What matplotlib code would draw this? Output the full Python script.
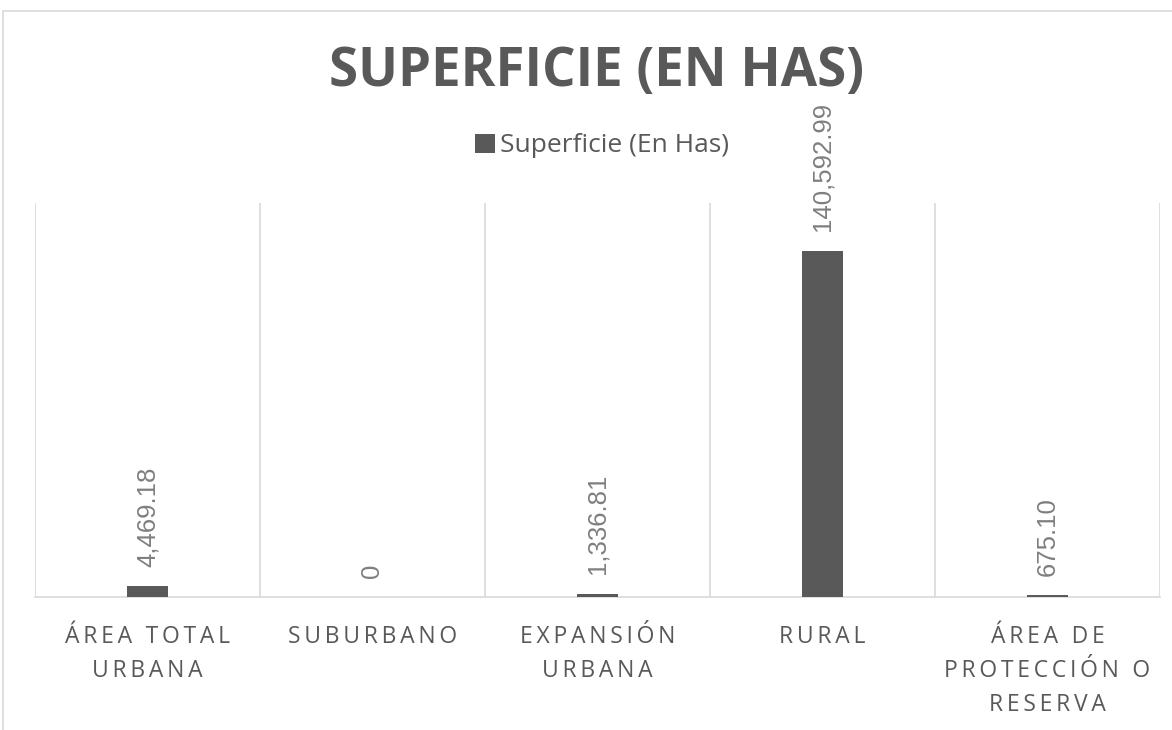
import matplotlib
matplotlib.use("Agg")
import matplotlib.pyplot as plt
from matplotlib.patches import Rectangle

categories = ["ÁREA TOTAL\nURBANA", "SUBURBANO", "EXPANSIÓN\nURBANA", "RURAL",
              "ÁREA DE\nPROTECCIÓN O\nRESERVA"]
values = [4469.18, 0, 1336.81, 140592.99, 675.10]
value_labels = ["4,469.18", "0", "1,336.81", "140,592.99", "675.10"]
series_name = "Superficie (En Has)"
title = "SUPERFICIE (EN HAS)"

BAR = "#595959"
GRID = "#d9d9d9"
TXT = "#595959"
LBL = "#7f7f7f"

def spaced(s):
    out = []
    for line in s.split("\n"):
        out.append("\u2009".join(list(line)))
    return "\n".join(out)

fig = plt.figure(figsize=(11.72, 7.30), dpi=100)
fig.patches.append(Rectangle((3/1172, -0.05), 1.1, 0.05 + (730-11)/730,
                             transform=fig.transFigure, fill=False,
                             edgecolor=GRID, linewidth=1.2))

ax = fig.add_axes([35/1172, 133/730, 1125/1172, 394/730])
x = list(range(len(values)))
bars = ax.bar(x, values, width=0.18, color=BAR, label=series_name, zorder=3)
ax.set_xlim(-0.5, len(values) - 0.5)
ax.set_ylim(0, 160000)

for b in [i - 0.5 for i in range(len(values) + 1)]:
    ax.axvline(b, color=GRID, linewidth=1.2, zorder=1)
for s in ["top", "right", "left"]:
    ax.spines[s].set_visible(False)
ax.spines["bottom"].set_color(GRID)
ax.spines["bottom"].set_linewidth(1.2)
ax.set_yticks([])
ax.set_xticks(x)
ax.set_xticklabels([spaced(c) for c in categories], fontsize=16.5, color=TXT,
                   family=["Open Sans", "DejaVu Sans"], linespacing=1.55)
ax.tick_params(axis="x", length=0, pad=20)

for xi, v, lab in zip(x, values, value_labels):
    ax.annotate(lab, (xi, v), xytext=(0, 14), textcoords="offset points",
                rotation=90, ha="center", va="bottom", fontsize=18.5,
                color=LBL, family="Liberation Sans")

fig.text(597/1172, (730-72)/730, title, ha="center", va="center", fontsize=38,
         fontweight="bold", color=TXT, family="Open Sans")

leg = fig.legend(handles=[bars], labels=[series_name], loc="center",
                 bbox_to_anchor=(602/1172, (730-146)/730), frameon=False,
                 handlelength=0.75, handleheight=0.75, handletextpad=0.2,
                 prop={"family": "Open Sans", "size": 19})
for t in leg.get_texts():
    t.set_color(TXT)

fig.savefig("out.png", dpi=100)
